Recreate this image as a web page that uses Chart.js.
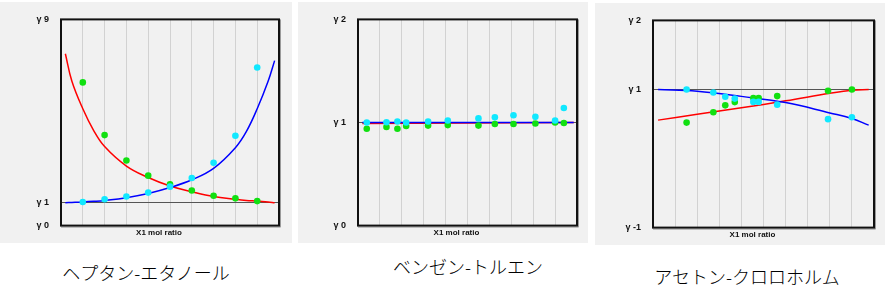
<!DOCTYPE html>
<html lang="ja">
<head>
    <meta charset="UTF-8">
    <title>活量係数</title>
    <script src="https://cdn.jsdelivr.net/npm/chart.js"></script>
    <style>
        body { margin: 0; background: #fff; width: 885px; height: 299px; position: relative; overflow: hidden; }
        .panel { position: absolute; background: #f1f1f1; }
        .caption { position: absolute; font-family: "Noto Sans CJK JP", sans-serif; font-size: 18px; font-weight: 300; color: #000; transform: translateX(-50%); white-space: nowrap; line-height: 1; }
    </style>
</head>
<body>
    <div class="panel" style="left:0;top:2px;width:292px;height:241px"><canvas id="c1" width="292" height="241"></canvas></div>
    <div class="panel" style="left:298px;top:2px;width:290px;height:241px"><canvas id="c2" width="290" height="241"></canvas></div>
    <div class="panel" style="left:595px;top:3px;width:290px;height:242px"><canvas id="c3" width="290" height="242"></canvas></div>

    <div class="caption" style="left:146px;top:263px">ヘプタン-エタノール</div>
    <div class="caption" style="left:468px;top:257px">ベンゼン-トルエン</div>
    <div class="caption" style="left:747px;top:267px">アセトン-クロロホルム</div>

    <script>
        // x grid (0.1 steps)
        const xGrid = [0, 0.1, 0.2, 0.3, 0.4, 0.5, 0.6, 0.7, 0.8, 0.9, 1];

        // ヘプタン-エタノール
        const hepX = [0.1, 0.2, 0.3, 0.4, 0.5, 0.6, 0.7, 0.8, 0.9];
        const hepGamma1 = [6.25, 3.95, 2.84, 2.18, 1.8, 1.53, 1.3, 1.19, 1.07];
        const hepGamma2 = [1.03, 1.15, 1.27, 1.44, 1.7, 2.08, 2.74, 3.92, 6.9];
        const hepCurveX = [0.02, 0.05, 0.1, 0.15, 0.2, 0.3, 0.4, 0.5, 0.6, 0.7, 0.8, 0.85, 0.9, 0.95, 0.98];
        const hepCurve1 = [7.5, 6.3, 5.1, 4.15, 3.45, 2.6, 2.1, 1.73, 1.48, 1.27, 1.15, 1.1, 1.07, 1.03, 1.0];
        const hepCurve2 = [1.0, 1.01, 1.03, 1.06, 1.1, 1.22, 1.4, 1.66, 2.0, 2.5, 3.4, 4.1, 5.1, 6.3, 7.2];
        const hepTicks = [0, 1, 9];

        // ベンゼン-トルエン
        const benX = [0.04, 0.13, 0.18, 0.22, 0.32, 0.41, 0.55, 0.625, 0.71, 0.81, 0.9, 0.94];
        const benGamma1 = [0.94, 0.957, 0.94, 0.966, 0.97, 0.975, 0.97, 0.985, 0.985, 0.99, 1.0, 0.995];
        const benGamma2 = [1.0, 1.003, 1.01, 1.0, 1.01, 1.02, 1.04, 1.05, 1.07, 1.055, 1.02, 1.14];
        const benCurveX = [0.02, 0.985];
        const benCurve1 = [0.99, 1.0];
        const benCurve2 = [1.0, 1.0];
        const benTicks = [0, 1, 2];

        // アセトン-クロロホルム
        const aceX = [0.152, 0.273, 0.327, 0.37, 0.454, 0.478, 0.562, 0.792, 0.9];
        const aceGamma1 = [0.52, 0.67, 0.77, 0.817, 0.876, 0.876, 0.904, 0.98, 1.0];
        const aceGamma2 = [1.0, 0.955, 0.895, 0.868, 0.82, 0.82, 0.78, 0.57, 0.597];
        const aceCurveX = [0.023, 0.2, 0.4, 0.6, 0.8, 0.9, 0.976];
        const aceCurve1 = [0.556, 0.64, 0.735, 0.835, 0.945, 0.99, 1.0];
        const aceCurve2 = [1.0, 0.975, 0.9, 0.81, 0.66, 0.58, 0.483];
        const aceTicks = [-1, 1, 2];

        const pts = (xs, ys) => xs.map((x, i) => ({ x: x, y: ys[i] }));

        const framePlugin = {
            id: 'frame',
            afterDraw(chart) {
                const a = chart.chartArea;
                const ctx = chart.ctx;
                ctx.save();
                // shadow
                ctx.strokeStyle = '#9a9a9a';
                ctx.lineWidth = 1;
                ctx.beginPath();
                ctx.moveTo(a.right + 1.5, a.top);
                ctx.lineTo(a.right + 1.5, a.bottom + 1.5);
                ctx.lineTo(a.left, a.bottom + 1.5);
                ctx.stroke();
                ctx.strokeStyle = '#111';
                ctx.lineWidth = 2;
                ctx.strokeRect(a.left, a.top, a.right - a.left, a.bottom - a.top);
                // x axis title
                ctx.fillStyle = '#111';
                ctx.font = 'bold 8px "Liberation Sans", Arial, sans-serif';
                ctx.textAlign = 'center';
                ctx.textBaseline = 'middle';
                ctx.fillText('X1 mol ratio', (a.left + a.right) / 2 - 11, a.bottom + 7);
                ctx.restore();
            }
        };

        function makeChart(id, p) {
            const ctx = document.getElementById(id).getContext('2d');
            return new Chart(ctx, {
                type: 'scatter',
                data: {
                    datasets: [
                        { type: 'line', data: pts(p.curveX, p.curve1), borderColor: '#ff0000', borderWidth: 1.5, pointRadius: 0, tension: 0.4, order: 4 },
                        { type: 'line', data: pts(p.curveX, p.curve2), borderColor: '#0000ff', borderWidth: 1.5, pointRadius: 0, tension: 0.4, order: 3 },
                        { data: pts(p.x, p.g1), backgroundColor: '#11e011', borderWidth: 0, pointRadius: 3.3, order: 2 },
                        { data: pts(p.x, p.g2), backgroundColor: '#11e8ff', borderWidth: 0, pointRadius: 3.3, order: 1 }
                    ]
                },
                options: {
                    responsive: false,
                    animation: false,
                    layout: { padding: p.pad },
                    plugins: { legend: { display: false }, tooltip: { enabled: false } },
                    scales: {
                        x: {
                            type: 'linear', min: 0, max: 1,
                            afterBuildTicks: s => { s.ticks = xGrid.map(v => ({ value: v })); },
                            afterFit: s => { s.height = 0; },
                            ticks: { display: false },
                            border: { display: false },
                            grid: {
                                drawTicks: false,
                                color: c => (c.tick && c.tick.value > 0.01 && c.tick.value < 0.99) ? '#d2d2d2' : 'rgba(0,0,0,0)'
                            }
                        },
                        y: {
                            type: 'linear', min: p.ticks[0], max: p.ticks[p.ticks.length - 1],
                            afterBuildTicks: s => { s.ticks = p.ticks.map(v => ({ value: v })); },
                            afterFit: s => { s.width = p.axisW; },
                            border: { display: false },
                            ticks: {
                                padding: 12,
                                color: '#111',
                                font: { family: '"Liberation Sans", Arial, sans-serif', size: 9, weight: 'bold' },
                                callback: v => 'γ ' + v
                            },
                            grid: {
                                drawTicks: false,
                                color: c => (c.tick && c.tick.value === 1) ? '#555' : 'rgba(0,0,0,0)'
                            }
                        }
                    }
                },
                plugins: [framePlugin]
            });
        }

        makeChart('c1', { x: hepX, g1: hepGamma1, g2: hepGamma2, curveX: hepCurveX, curve1: hepCurve1, curve2: hepCurve2, ticks: hepTicks, axisW: 61, pad: { left: 0, top: 10, right: 13, bottom: 12 } });
        makeChart('c2', { x: benX, g1: benGamma1, g2: benGamma2, curveX: benCurveX, curve1: benCurve1, curve2: benCurve2, ticks: benTicks, axisW: 60, pad: { left: 0, top: 11, right: 11, bottom: 12 } });
        makeChart('c3', { x: aceX, g1: aceGamma1, g2: aceGamma2, curveX: aceCurveX, curve1: aceCurve1, curve2: aceCurve2, ticks: aceTicks, axisW: 58, pad: { left: 0, top: 9, right: 11, bottom: 15 } });
    </script>
</body>
</html>
